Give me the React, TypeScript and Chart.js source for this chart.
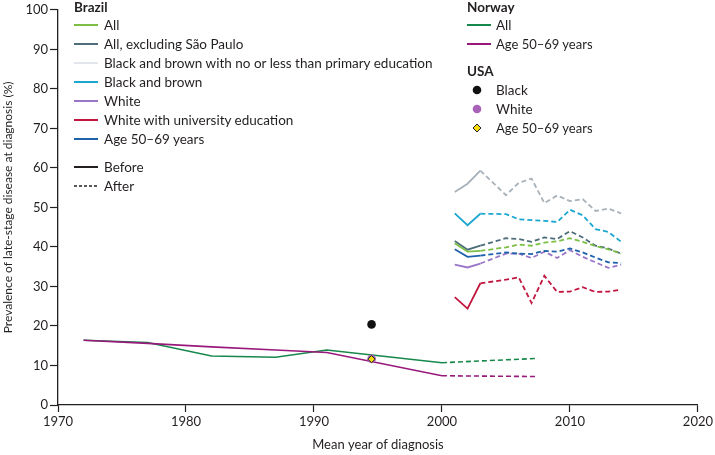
import React, { useEffect, useRef } from "react";
import { Chart, registerables } from "chart.js";

Chart.register(...registerables);

// ---------- data ----------
const brazilYears = [2001, 2002, 2003, 2005, 2006, 2007, 2008, 2009, 2010, 2011, 2012, 2013, 2014];
const brazilAll = [40.9, 38.8, 39.0, 39.9, 40.6, 40.3, 41.1, 41.4, 42.2, 41.3, 40.2, 39.4, 38.3];
const brazilAllExSaoPaulo = [41.5, 39.3, 40.3, 42.2, 42.0, 41.3, 42.4, 42.0, 44.0, 42.4, 40.3, 39.6, 38.3];
const brazilBlackBrownLowEdu = [53.9, 56.0, 59.3, 53.1, 56.2, 57.3, 51.1, 53.0, 51.6, 52.1, 49.1, 49.7, 48.5];
const brazilBlackBrown = [48.5, 45.5, 48.4, 48.3, 47.0, 46.8, 46.6, 46.3, 49.4, 48.0, 44.5, 43.8, 41.3];
const brazilWhite = [35.5, 34.8, 35.8, 38.3, 38.3, 37.2, 38.8, 37.2, 39.2, 37.5, 36.1, 34.7, 35.5];
const brazilWhiteUniEdu = [27.3, 24.4, 30.8, 31.7, 32.3, 25.8, 32.7, 28.6, 28.7, 29.8, 28.6, 28.7, 29.2];
const brazilAge5069 = [39.4, 37.5, 37.8, 38.6, 38.3, 38.2, 39.0, 38.8, 39.6, 38.6, 37.3, 36.1, 35.9];
const brazilCutYear = 2003;

const norwayYears = [1972, 1977, 1982, 1987, 1991, 2000, 2007.5];
const norwayAll = [16.4, 15.8, 12.4, 12.1, 13.9, 10.7, 11.8];
const norwayAge5069 = [16.4, 15.6, 14.7, 13.9, 13.3, 7.4, 7.2];
const norwayCutYear = 2000;

const usaYear = [1994.5];
const usaBlack = [20.4];
const usaWhite = [11.7];
const usaAge5069 = [11.6];

const xMin = 1970;
const xMax = 2020;
const xStep = 10;
const yMin = 0;
const yMax = 100;
const yStep = 10;

const xTitle = "Mean year of diagnosis";
const yTitle = "Prevalence of late-stage disease at diagnosis (%)";

// ---------- styles ----------
const FONT = "Lato, 'Open Sans', sans-serif";
const INK = "#231f20";

const C = {
  all: "#7bbf44",
  allEx: "#4e6d7b",
  bbLow: "#a9b2b9",
  bbLowLegend: "#e3e7ed",
  bb: "#1ca7d0",
  white: "#9b76c8",
  whiteUni: "#c2163f",
  age: "#1e62ab",
  nAll: "#17884b",
  nAge: "#99197b",
  uBlack: "#111111",
  uWhite: "#a862b8",
  uAge: "#f5d90a",
};

const pts = (xs: number[], ys: number[]) => xs.map((x, i) => ({ x, y: ys[i] }));

const dashAfter = (cut: number) => ({
  borderDash: (ctx: any) => (ctx.p0.parsed.x >= cut - 1e-6 ? [5, 3] : undefined),
});

function lineDs(label: string, xs: number[], ys: number[], color: string, cut: number, width: number, order: number) {
  return {
    label,
    data: pts(xs, ys),
    borderColor: color,
    backgroundColor: color,
    borderWidth: width,
    pointRadius: 0,
    pointHoverRadius: 0,
    fill: false,
    tension: 0,
    segment: dashAfter(cut),
    order,
  };
}

function pointDs(label: string, xs: number[], ys: number[], fill: string, border: string, style: string, r: number, bw: number, order: number) {
  return {
    label,
    data: pts(xs, ys),
    showLine: false,
    pointStyle: style,
    pointRadius: r,
    pointHoverRadius: r,
    pointBackgroundColor: fill,
    pointBorderColor: border,
    pointBorderWidth: bw,
    backgroundColor: fill,
    borderColor: border,
    order,
  };
}

const brazilLegend = [
  { label: "All", color: C.all },
  { label: "All, excluding São Paulo", color: C.allEx },
  { label: "Black and brown with no or less than primary education", color: C.bbLowLegend },
  { label: "Black and brown", color: C.bb },
  { label: "White", color: C.white },
  { label: "White with university education", color: C.whiteUni },
  { label: "Age 50–69 years", color: C.age },
];

function Text({ x, cy, bold, size, children }: any) {
  return (
    <div
      style={{
        position: "absolute",
        left: x,
        top: cy - 9,
        height: 18,
        lineHeight: "18px",
        whiteSpace: "nowrap",
        fontFamily: FONT,
        fontSize: size || 13.5,
        fontWeight: bold ? 700 : 400,
        color: INK,
      }}
    >
      {children}
    </div>
  );
}

function Swatch({ x, cy, color, dashed }: any) {
  return (
    <svg style={{ position: "absolute", left: x, top: cy - 3 }} width={24} height={6}>
      <line x1={0} y1={3} x2={24} y2={3} stroke={color} strokeWidth={dashed ? 1.3 : 2} strokeDasharray={dashed ? "3,2" : undefined} />
    </svg>
  );
}

function Legend() {
  const bx = 74;
  const btx = 104;
  const rowY = [24.5, 43.5, 62.5, 81.5, 100.5, 119.5, 138.5];
  const nx = 467;
  const ntx = 496;
  const mx = 477;
  return (
    <>
      <Text x={bx} cy={7} bold>Brazil</Text>
      {brazilLegend.map((it, i) => (
        <React.Fragment key={it.label}>
          <Swatch x={bx} cy={rowY[i]} color={it.color} />
          <Text x={btx} cy={rowY[i]}>{it.label}</Text>
        </React.Fragment>
      ))}
      <Swatch x={bx} cy={166.5} color={INK} />
      <Text x={btx} cy={166.5}>Before</Text>
      <Swatch x={bx} cy={185.5} color={INK} dashed />
      <Text x={btx} cy={185.5}>After</Text>

      <Text x={nx} cy={7} bold>Norway</Text>
      <Swatch x={nx} cy={24.5} color={C.nAll} />
      <Text x={ntx} cy={24.5}>All</Text>
      <Swatch x={nx} cy={43.5} color={C.nAge} />
      <Text x={ntx} cy={43.5} size={13}>Age 50–69 years</Text>

      <Text x={nx} cy={71} bold>USA</Text>
      <svg style={{ position: "absolute", left: mx - 6, top: 84 }} width={12} height={12}>
        <circle cx={6} cy={6} r={4.3} fill={C.uBlack} />
      </svg>
      <Text x={ntx} cy={90}>Black</Text>
      <svg style={{ position: "absolute", left: mx - 6, top: 102.5 }} width={12} height={12}>
        <circle cx={6} cy={6} r={4.3} fill={C.uWhite} />
      </svg>
      <Text x={ntx} cy={108.5}>White</Text>
      <svg style={{ position: "absolute", left: mx - 6, top: 122 }} width={12} height={12}>
        <polygon points="6,2 10,6 6,10 2,6" fill={C.uAge} stroke="#222" strokeWidth={1} />
      </svg>
      <Text x={ntx} cy={128} size={13}>Age 50–69 years</Text>
    </>
  );
}

export default function App() {
  const ref = useRef<HTMLCanvasElement | null>(null);

  useEffect(() => {
    if (!ref.current) return;
    const datasets: any[] = [
      pointDs("USA Age 50–69 years", usaYear, usaAge5069, C.uAge, "#222", "rectRot", 3.6, 1, 0),
      pointDs("USA White", usaYear, usaWhite, C.uWhite, C.uWhite, "circle", 4.3, 0, 1),
      pointDs("USA Black", usaYear, usaBlack, C.uBlack, C.uBlack, "circle", 4.3, 0, 1),
      lineDs("Norway All", norwayYears, norwayAll, C.nAll, norwayCutYear, 1.6, 3),
      lineDs("Norway Age 50–69 years", norwayYears, norwayAge5069, C.nAge, norwayCutYear, 1.6, 2),
      lineDs("Brazil Black and brown with no or less than primary education", brazilYears, brazilBlackBrownLowEdu, C.bbLow, brazilCutYear, 1.8, 5),
      lineDs("Brazil Black and brown", brazilYears, brazilBlackBrown, C.bb, brazilCutYear, 1.8, 5),
      lineDs("Brazil All, excluding São Paulo", brazilYears, brazilAllExSaoPaulo, C.allEx, brazilCutYear, 1.8, 5),
      lineDs("Brazil All", brazilYears, brazilAll, C.all, brazilCutYear, 1.8, 4),
      lineDs("Brazil Age 50–69 years", brazilYears, brazilAge5069, C.age, brazilCutYear, 1.8, 4),
      lineDs("Brazil White", brazilYears, brazilWhite, C.white, brazilCutYear, 1.8, 4),
      lineDs("Brazil White with university education", brazilYears, brazilWhiteUniEdu, C.whiteUni, brazilCutYear, 1.8, 4),
    ];

    const tickFont = { family: FONT, size: 13 };
    const chart = new Chart(ref.current, {
      type: "line",
      data: { datasets },
      options: {
        animation: false,
        responsive: true,
        maintainAspectRatio: false,
        parsing: true,
        layout: { padding: { top: 7, right: 15, left: 0, bottom: 0 } },
        plugins: { legend: { display: false }, tooltip: { enabled: false } },
        scales: {
          x: {
            type: "linear",
            min: xMin,
            max: xMax,
            afterFit: (s: any) => {
              s.height = 50;
            },
            ticks: {
              stepSize: xStep,
              color: INK,
              font: tickFont,
              padding: 2,
              maxRotation: 0,
              callback: (v: any) => String(v),
            },
            grid: { drawOnChartArea: false, drawTicks: true, tickLength: 7, color: INK, tickWidth: 1.2 },
            border: { display: true, color: INK, width: 1.3 },
            title: { display: true, text: xTitle, color: INK, font: tickFont, padding: { top: 0, bottom: 2 } },
          },
          y: {
            type: "linear",
            min: yMin,
            max: yMax,
            afterFit: (s: any) => {
              s.width = 58;
            },
            ticks: { stepSize: yStep, color: INK, font: tickFont, padding: 2 },
            grid: { drawOnChartArea: false, drawTicks: true, tickLength: 8, color: INK, tickWidth: 1.2 },
            border: { display: true, color: INK, width: 1.3 },
            title: { display: true, text: yTitle, color: INK, font: { family: FONT, size: 12 }, padding: { top: 1, bottom: 0 } },
          },
        },
      } as any,
    });
    return () => chart.destroy();
  }, []);

  return (
    <div style={{ position: "fixed", left: 0, top: 0, width: 715, height: 455, background: "#fff" }}>
      <canvas ref={ref} />
      <Legend />
    </div>
  );
}
